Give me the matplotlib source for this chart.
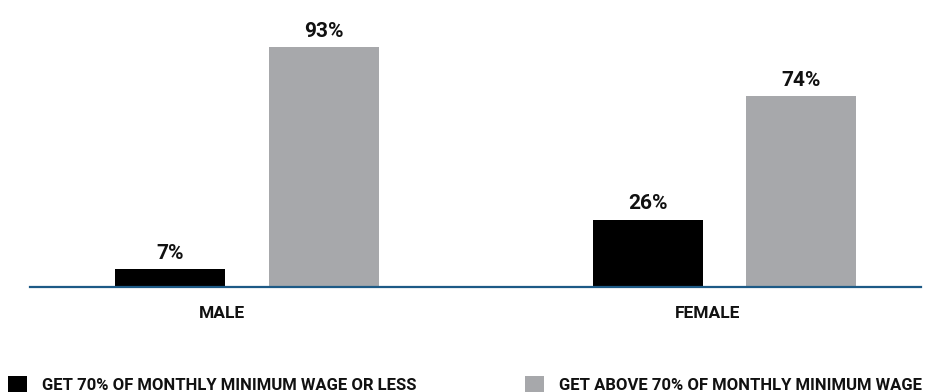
import matplotlib
matplotlib.use("Agg")
import matplotlib.pyplot as plt
from matplotlib.patches import Patch
import numpy as np

plt.rcParams['font.family'] = ['Roboto', 'DejaVu Sans']

categories = ["MALE", "FEMALE"]
series_names = ["GET 70% OF MONTHLY MINIMUM WAGE OR LESS",
                "GET ABOVE 70% OF MONTHLY MINIMUM WAGE"]
low_values = [7, 26]
high_values = [93, 74]
value_labels_low = ["7%", "26%"]
value_labels_high = ["93%", "74%"]

colors = ["#000000", "#a7a8ab"]
axis_color = "#1d5a86"

W, H = 940, 392
fig = plt.figure(figsize=(W / 100, H / 100), dpi=100)
ax = fig.add_axes([30 / W, (H - 287) / H, 891 / W, 287 / H])

x = np.arange(len(categories))
bar_w = 0.2304
off = 0.161

b1 = ax.bar(x - off, low_values, width=bar_w, color=colors[0])
b2 = ax.bar(x + off, high_values, width=bar_w, color=colors[1])

for bars, labels in ((b1, value_labels_low), (b2, value_labels_high)):
    for rect, lab in zip(bars, labels):
        ax.annotate(lab, (rect.get_x() + rect.get_width() / 2, rect.get_height()),
                    xytext=(0, 7.5), textcoords="offset points",
                    ha="center", va="baseline", fontsize=15,
                    fontweight="bold", color="#111111")

ax.set_xlim(-0.4545, 1.4115)
ax.set_ylim(0, 111.2)

label_shift = np.array([-0.052, -0.036])
ax.set_xticks(x + label_shift)
ax.set_xticklabels(categories, fontsize=12.5, fontweight="bold", color="#111111")
ax.tick_params(axis="x", length=0, pad=14)
ax.set_yticks([])
for s in ("top", "right", "left"):
    ax.spines[s].set_visible(False)
ax.spines["bottom"].set_color(axis_color)
ax.spines["bottom"].set_linewidth(1.6)

fs = 12
for name, col, xpos in ((series_names[0], colors[0], 8), (series_names[1], colors[1], 525)):
    leg = fig.legend(handles=[Patch(facecolor=col, edgecolor="none", label=name)],
                     loc="lower left", bbox_to_anchor=(xpos / W, -1 / H),
                     frameon=False, fontsize=fs, borderpad=0, borderaxespad=0,
                     handlelength=1.15, handleheight=1.1, handletextpad=0.9,
                     prop={"size": fs, "weight": "bold"})
    for t in leg.get_texts():
        t.set_color("#111111")

fig.savefig("out.png", dpi=100)
